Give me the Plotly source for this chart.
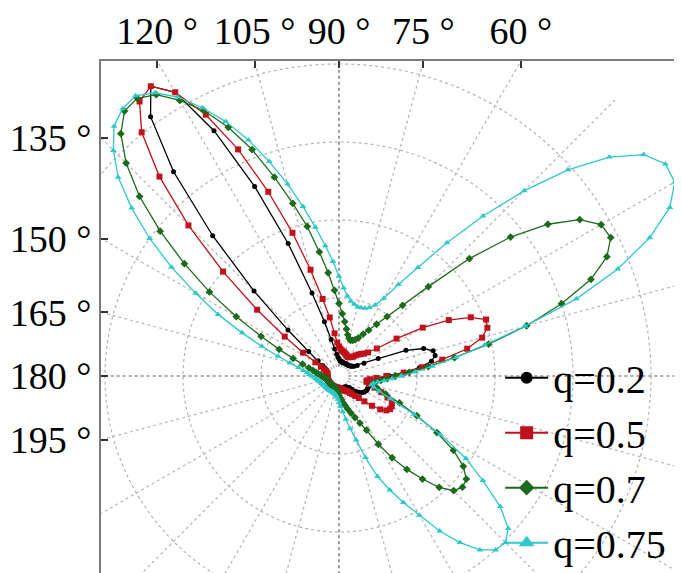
import numpy as np
import plotly.graph_objects as go

# angular sampling of the curves (degrees)
THETA = list(range(0, 360, 3))

# radial values (grid circles are 1 unit apart)
R_Q02 = [0.65, 0.83, 1.04, 1.20, 1.26, 1.25, 1.14, 0.92, 0.55, 0.36,
         0.27, 0.23, 0.21, 0.20, 0.19, 0.19, 0.18, 0.18, 0.18, 0.18,
         0.18, 0.18, 0.18, 0.18, 0.18, 0.18, 0.18, 0.19, 0.19, 0.20,
         0.22, 0.24, 0.28, 0.35, 0.48, 0.72, 1.12, 1.82, 2.66, 3.53,
         4.20, 4.43, 4.11, 3.37, 2.42, 1.54, 0.88, 0.50, 0.33, 0.25,
         0.21, 0.19, 0.18, 0.17, 0.17, 0.16, 0.16, 0.16, 0.16, 0.16,
         0.16, 0.16, 0.16, 0.16, 0.16, 0.16, 0.16, 0.16, 0.16, 0.16,
         0.16, 0.16, 0.16, 0.16, 0.16, 0.16, 0.16, 0.16, 0.16, 0.16,
         0.16, 0.16, 0.16, 0.16, 0.16, 0.16, 0.16, 0.16, 0.16, 0.16,
         0.16, 0.16, 0.16, 0.16, 0.16, 0.16, 0.16, 0.16, 0.16, 0.16,
         0.16, 0.17, 0.18, 0.19, 0.20, 0.24, 0.29, 0.33, 0.36, 0.38,
         0.39, 0.40, 0.40, 0.40, 0.41, 0.42, 0.44, 0.47, 0.52, 0.58]

R_Q05 = [0.61, 0.83, 1.07, 1.34, 1.68, 1.90, 2.00, 2.02, 1.85, 1.58,
         1.24, 0.88, 0.60, 0.48, 0.43, 0.40, 0.37, 0.34, 0.31, 0.29,
         0.28, 0.27, 0.27, 0.28, 0.29, 0.30, 0.31, 0.32, 0.33, 0.35,
         0.38, 0.43, 0.55, 0.76, 1.01, 1.41, 1.93, 2.53, 3.18, 3.76,
         4.20, 4.43, 4.35, 4.02, 3.44, 2.73, 2.00, 1.35, 0.86, 0.55,
         0.35, 0.26, 0.21, 0.18, 0.17, 0.16, 0.16, 0.15, 0.15, 0.15,
         0.15, 0.15, 0.15, 0.15, 0.15, 0.15, 0.15, 0.15, 0.15, 0.15,
         0.15, 0.15, 0.15, 0.15, 0.15, 0.15, 0.15, 0.15, 0.15, 0.15,
         0.15, 0.15, 0.15, 0.15, 0.15, 0.15, 0.15, 0.15, 0.15, 0.16,
         0.16, 0.16, 0.17, 0.17, 0.18, 0.18, 0.19, 0.20, 0.21, 0.22,
         0.23, 0.26, 0.29, 0.33, 0.38, 0.46, 0.57, 0.68, 0.75, 0.78,
         0.78, 0.76, 0.68, 0.58, 0.48, 0.40, 0.36, 0.36, 0.40, 0.48]

R_Q07 = [0.72, 0.90, 1.15, 1.50, 1.96, 2.49, 3.00, 3.46, 3.76, 3.91,
         3.88, 3.68, 3.31, 2.83, 2.25, 1.62, 1.22, 0.98, 0.82, 0.70,
         0.62, 0.55, 0.51, 0.49, 0.48, 0.50, 0.54, 0.61, 0.70, 0.80,
         0.93, 1.10, 1.33, 1.61, 1.96, 2.29, 2.68, 3.11, 3.49, 3.82,
         4.08, 4.30, 4.40, 4.37, 4.18, 3.86, 3.44, 2.95, 2.45, 1.98,
         1.52, 1.12, 0.84, 0.63, 0.49, 0.40, 0.34, 0.30, 0.27, 0.24,
         0.22, 0.20, 0.19, 0.18, 0.17, 0.16, 0.16, 0.15, 0.15, 0.15,
         0.15, 0.15, 0.15, 0.15, 0.15, 0.15, 0.15, 0.15, 0.15, 0.15,
         0.15, 0.15, 0.15, 0.15, 0.16, 0.16, 0.17, 0.18, 0.20, 0.22,
         0.25, 0.28, 0.31, 0.35, 0.39, 0.44, 0.50, 0.57, 0.66, 0.78,
         1.01, 1.25, 1.48, 1.70, 1.92, 2.08, 2.13, 2.10, 1.97, 1.75,
         1.45, 1.12, 0.85, 0.64, 0.52, 0.46, 0.45, 0.48, 0.54, 0.62]

R_Q075 = [0.80, 0.98, 1.20, 1.52, 1.91, 2.47, 3.20, 3.83, 4.36, 4.76,
          4.97, 4.99, 4.83, 4.46, 3.95, 3.36, 2.76, 2.20, 1.72, 1.40,
          1.15, 1.02, 0.96, 0.93, 0.92, 0.92, 0.94, 0.97, 1.03, 1.13,
          1.28, 1.47, 1.68, 1.93, 2.22, 2.55, 2.89, 3.24, 3.57, 3.86,
          4.13, 4.33, 4.44, 4.41, 4.31, 4.09, 3.81, 3.42, 3.00, 2.56,
          2.12, 1.74, 1.36, 1.06, 0.82, 0.65, 0.53, 0.46, 0.41, 0.38,
          0.35, 0.32, 0.30, 0.28, 0.27, 0.26, 0.25, 0.24, 0.24, 0.23,
          0.23, 0.22, 0.22, 0.22, 0.22, 0.22, 0.22, 0.22, 0.22, 0.22,
          0.22, 0.22, 0.22, 0.22, 0.23, 0.23, 0.24, 0.25, 0.27, 0.30,
          0.34, 0.39, 0.46, 0.56, 0.69, 0.85, 1.10, 1.38, 1.60, 1.82,
          2.06, 2.37, 2.64, 2.87, 3.00, 3.02, 2.92, 2.66, 2.28, 1.94,
          1.50, 1.08, 0.72, 0.55, 0.47, 0.43, 0.45, 0.50, 0.58, 0.68]

SERIES_NAMES = ["q=0.2", "q=0.5", "q=0.7", "q=0.75"]
SERIES_R = [R_Q02, R_Q05, R_Q07, R_Q075]
COLORS = ["#000000", "#C0121A", "#1C6A1C", "#2EC8CA"]
SYMBOLS = ["circle", "square", "diamond", "triangle-up"]
SIZES = [5, 6, 6, 6]
LEGEND_SIZES = [12, 13, 12, 14]

# grid
GRID_RADII = [1, 2, 3, 4]
SPOKE_ANGLES = list(range(0, 360, 15))
SPOKE_START, SPOKE_LEN = 0.12, 5

TOP_TICK_ANGLES = [120, 105, 90, 75, 60]
TOP_TICK_TEXT = ["120 °", "105 °", "90 °", "75 °", "60 °"]
LEFT_TICK_ANGLES = [135, 150, 165, 180, 195]
LEFT_TICK_TEXT = ["135 °", "150 °", "165 °", "180 °", "195 °"]

# figure geometry (page body has an 8px offset)
W, H = 674, 565
ML, MT = 93, 53
CX, CY = 331, 368          # pole position inside the figure, px
PX_PER_UNIT = 78.0
X_MIN = (ML - CX) / PX_PER_UNIT
X_MAX = X_MIN + (W - ML) / PX_PER_UNIT
Y_MAX = (CY - MT) / PX_PER_UNIT
Y_MIN = Y_MAX - (H - MT) / PX_PER_UNIT

fig = go.Figure()

shapes = []
for rr in GRID_RADII:
    shapes.append(dict(type="circle", xref="x", yref="y", x0=-rr, y0=-rr, x1=rr, y1=rr,
                       line=dict(color="#b4b4b4", width=1.2, dash="dot"), layer="below"))
for a in SPOKE_ANGLES:
    major = a % 90 == 0
    ca, sa = np.cos(np.radians(a)), np.sin(np.radians(a))
    shapes.append(dict(type="line", xref="x", yref="y",
                       x0=SPOKE_START * ca, y0=SPOKE_START * sa,
                       x1=SPOKE_LEN * ca, y1=SPOKE_LEN * sa,
                       line=dict(color="#5a5a5a" if major else "#b4b4b4", width=1.2, dash="dot"),
                       layer="below"))

for name, rvals, col, sym, sz in zip(SERIES_NAMES, SERIES_R, COLORS, SYMBOLS, SIZES):
    th = np.radians(np.array(THETA + [THETA[0]], dtype=float))
    r = np.array(rvals + [rvals[0]], dtype=float)
    fig.add_trace(go.Scatter(
        x=r * np.cos(th), y=r * np.sin(th), mode="lines+markers", name=name,
        line=dict(color=col, width=1.3),
        marker=dict(symbol=sym, size=sz, color=col),
        showlegend=False, hoverinfo="skip"))

# legend entries (bigger symbols, as in the reference legend)
for name, col, sym, lsz in zip(SERIES_NAMES, COLORS, SYMBOLS, LEGEND_SIZES):
    fig.add_trace(go.Scatter(
        x=[None], y=[None], mode="lines+markers", name=name,
        line=dict(color=col, width=2), marker=dict(symbol=sym, size=lsz, color=col),
        showlegend=True, hoverinfo="skip"))

fig.update_layout(
    width=W, height=H,
    margin=dict(l=ML, r=0, t=MT, b=0, autoexpand=False),
    plot_bgcolor="white", paper_bgcolor="white",
    shapes=shapes,
    xaxis=dict(range=[X_MIN, X_MAX], side="top", showgrid=False, zeroline=False,
               showline=True, linecolor="#7a7a7a", linewidth=2, mirror=False,
               ticks="inside", ticklen=7, tickwidth=2, tickcolor="#333333",
               tickvals=[Y_MAX / np.tan(np.radians(a)) for a in TOP_TICK_ANGLES],
               ticktext=TOP_TICK_TEXT,
               tickfont=dict(family="Liberation Serif", size=38, color="black")),
    yaxis=dict(range=[Y_MIN, Y_MAX], showgrid=False, zeroline=False,
               showline=True, linecolor="#7a7a7a", linewidth=2, mirror=False,
               ticks="inside", ticklen=7, tickwidth=2, tickcolor="#333333",
               tickvals=[X_MIN * np.tan(np.radians(a)) for a in LEFT_TICK_ANGLES],
               ticktext=LEFT_TICK_TEXT,
               tickfont=dict(family="Liberation Serif", size=38, color="black")),
    legend=dict(x=0.687, y=0.445, xanchor="left", yanchor="top",
                bgcolor="rgba(0,0,0,0)", itemsizing="trace", itemwidth=43,
                font=dict(family="Liberation Serif", size=40, color="black"),
                tracegroupgap=0),
)

fig.write_html("out.html")
